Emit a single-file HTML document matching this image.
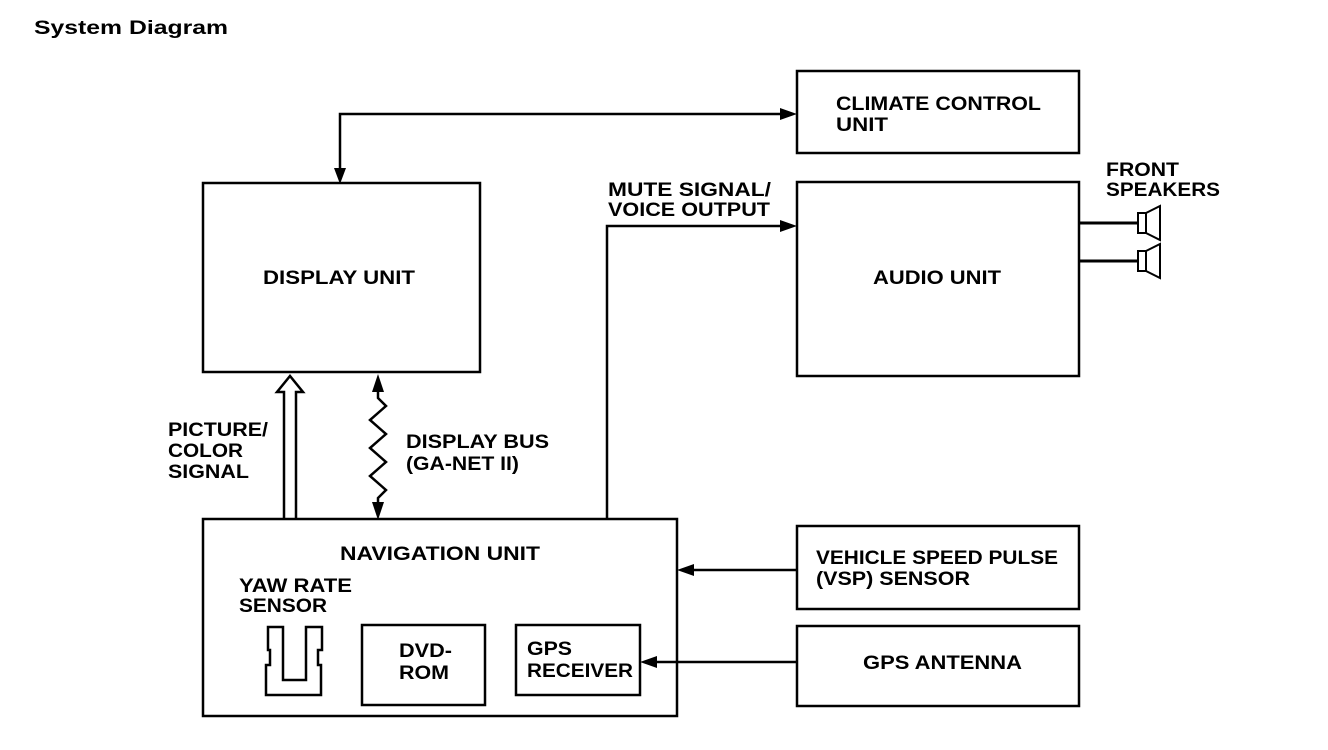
<!DOCTYPE html>
<html><head><meta charset="utf-8"><style>
html,body{margin:0;padding:0;background:#fff;}
svg{display:block;}
text{font-family:"Liberation Sans",Arial,sans-serif;font-weight:bold;font-size:19px;fill:#000;}
</style></head><body>
<svg width="1328" height="750" viewBox="0 0 1328 750" xmlns="http://www.w3.org/2000/svg">
<g fill="none" stroke="#000" stroke-width="2.5">
<rect x="203" y="183" width="277" height="189"/>
<rect x="797" y="71" width="282" height="82"/>
<rect x="797" y="182" width="282" height="194"/>
<rect x="203" y="519" width="474" height="197"/>
<rect x="797" y="526" width="282" height="83"/>
<rect x="797" y="626" width="282" height="80"/>
<rect x="362" y="625" width="123" height="80"/>
<rect x="516" y="625" width="124" height="70"/>
<path d="M268,627 H283 V680 H306 V627 H322 V650 H318 V665 H321 V695 H266 V665 H270 V650 H268 Z"/>
<polyline points="340,170 340,114 780,114"/>
<polyline points="607,519 607,226 780,226"/>
<line x1="797" y1="570" x2="693" y2="570"/>
<line x1="797" y1="662" x2="656" y2="662"/>
<line x1="1079" y1="223" x2="1138" y2="223" stroke-width="3"/>
<line x1="1079" y1="261" x2="1138" y2="261" stroke-width="3"/>
<rect x="1138" y="213" width="8" height="20" stroke-width="2"/>
<path d="M1146,213 L1160,206 V240 L1146,233" stroke-width="2"/>
<rect x="1138" y="251" width="8" height="20" stroke-width="2"/>
<path d="M1146,251 L1160,244 V278 L1146,271" stroke-width="2"/>
<path d="M284,519 V392 H277 L290,376 L303,392 H296 V519"/>
<polyline points="378,392 378,398 386,406 370,420 386,434 370,448 386,462 370,476 386,490 378,498 378,503"/>
</g>
<g fill="#000">
<polygon points="340,184 334,168 346,168"/>
<polygon points="797,114 780,108 780,120"/>
<polygon points="797,226 780,220 780,232"/>
<polygon points="677,570 694,564 694,576"/>
<polygon points="640,662 657,656 657,668"/>
<polygon points="378,374 372,392 384,392"/>
<polygon points="378,520 372,502 384,502"/>
</g>
<text x="34" y="34" font-size="20" textLength="194" lengthAdjust="spacingAndGlyphs">System Diagram</text>
<text x="836" y="110" textLength="205" lengthAdjust="spacingAndGlyphs">CLIMATE CONTROL</text>
<text x="836" y="131" textLength="52" lengthAdjust="spacingAndGlyphs">UNIT</text>
<text x="608" y="196" textLength="163" lengthAdjust="spacingAndGlyphs">MUTE SIGNAL/</text>
<text x="608" y="216" textLength="162" lengthAdjust="spacingAndGlyphs">VOICE OUTPUT</text>
<text x="1106" y="176" textLength="73" lengthAdjust="spacingAndGlyphs">FRONT</text>
<text x="1106" y="196" textLength="114" lengthAdjust="spacingAndGlyphs">SPEAKERS</text>
<text x="263" y="284" textLength="152" lengthAdjust="spacingAndGlyphs">DISPLAY UNIT</text>
<text x="873" y="284" textLength="128" lengthAdjust="spacingAndGlyphs">AUDIO UNIT</text>
<text x="168" y="436" textLength="100" lengthAdjust="spacingAndGlyphs">PICTURE/</text>
<text x="168" y="457" textLength="75" lengthAdjust="spacingAndGlyphs">COLOR</text>
<text x="168" y="478" textLength="81" lengthAdjust="spacingAndGlyphs">SIGNAL</text>
<text x="406" y="448" textLength="143" lengthAdjust="spacingAndGlyphs">DISPLAY BUS</text>
<text x="406" y="470" textLength="113" lengthAdjust="spacingAndGlyphs">(GA-NET II)</text>
<text x="340" y="560" textLength="200" lengthAdjust="spacingAndGlyphs">NAVIGATION UNIT</text>
<text x="239" y="592" textLength="113" lengthAdjust="spacingAndGlyphs">YAW RATE</text>
<text x="239" y="612" textLength="88" lengthAdjust="spacingAndGlyphs">SENSOR</text>
<text x="399" y="657" textLength="53" lengthAdjust="spacingAndGlyphs">DVD-</text>
<text x="399" y="679" textLength="50" lengthAdjust="spacingAndGlyphs">ROM</text>
<text x="527" y="655" textLength="45" lengthAdjust="spacingAndGlyphs">GPS</text>
<text x="527" y="677" textLength="106" lengthAdjust="spacingAndGlyphs">RECEIVER</text>
<text x="816" y="564" textLength="242" lengthAdjust="spacingAndGlyphs">VEHICLE SPEED PULSE</text>
<text x="816" y="585" textLength="154" lengthAdjust="spacingAndGlyphs">(VSP) SENSOR</text>
<text x="863" y="669" textLength="159" lengthAdjust="spacingAndGlyphs">GPS ANTENNA</text>
</svg>
</body></html>
